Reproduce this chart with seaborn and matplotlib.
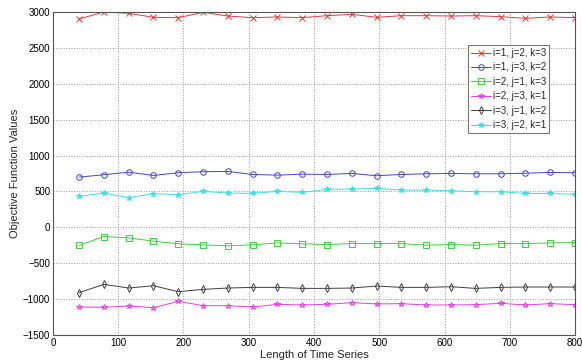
import seaborn as sns
import matplotlib.pyplot as plt
import numpy as np

# values
lengths = [40, 78, 116, 154, 192, 230, 268, 306, 344, 382, 420,
           458, 496, 534, 572, 610, 648, 686, 724, 762, 800]

i1j2k3 = [2903, 3000, 2982, 2926, 2921, 2996, 2944, 2921, 2931, 2921, 2949,
          2968, 2926, 2949, 2949, 2944, 2949, 2935, 2912, 2931, 2921]
i1j3k2 = [699, 732, 768, 722, 760, 774, 778, 736, 726, 740, 736,
          750, 718, 736, 745, 750, 745, 745, 754, 764, 759]
i2j1k3 = [-254, -129, -148, -194, -231, -245, -259, -245, -218, -231, -241,
          -227, -227, -227, -250, -241, -250, -227, -227, -218, -213]
i2j3k1 = [-1111, -1115, -1097, -1121, -1032, -1093, -1093, -1111, -1074, -1083, -1074,
          -1051, -1069, -1065, -1083, -1083, -1079, -1060, -1083, -1065, -1079]
i3j1k2 = [-912, -796, -847, -815, -898, -866, -847, -838, -838, -852, -852,
          -847, -819, -838, -838, -829, -852, -838, -833, -833, -833]
i3j2k1 = [431, 477, 412, 468, 454, 500, 477, 472, 500, 486, 528,
          532, 542, 518, 518, 509, 495, 495, 472, 472, 458]

series = [
    ('i=1, j=2, k=3', i1j2k3, '#dd3b3b', 'x', True),
    ('i=1, j=3, k=2', i1j3k2, '#4545c8', 'o', False),
    ('i=2, j=1, k=3', i2j1k3, '#3fd03f', 's', False),
    ('i=2, j=3, k=1', i2j3k1, '#e040e0', '*', False),
    ('i=3, j=1, k=2', i3j1k2, '#404040', 'd', False),
    ('i=3, j=2, k=1', i3j2k1, '#3fe0e0', '*', True),
]

sns.set_style('white')
plt.rcParams['font.family'] = ['Liberation Sans', 'DejaVu Sans']

fig = plt.figure(figsize=(5.82, 3.64), dpi=100)
ax = fig.add_axes([0.091, 0.080, 0.897, 0.887])

for name, vals, col, mk, filled in series:
    sns.lineplot(x=lengths, y=vals, ax=ax, color=col, marker=mk, label=name,
                 linewidth=0.7, markersize=4,
                 markerfacecolor=col if filled else 'none',
                 markeredgecolor=col, markeredgewidth=0.7)

ax.set_xlim(0, 800)
ax.set_ylim(-1500, 3000)
ax.set_xticks(np.arange(0, 801, 100))
ax.set_yticks(np.arange(-1500, 3001, 500))
ax.grid(True, linestyle=':', color='#999999', linewidth=0.7)
ax.tick_params(direction='in', length=3, labelsize=7, colors='black', pad=2)
for s in ax.spines.values():
    s.set_color('#555555')
    s.set_linewidth(0.8)

ax.set_xlabel('Length of Time Series', fontsize=8, labelpad=2)
ax.set_ylabel('Objective Function Values', fontsize=8, labelpad=2)

leg = ax.legend(loc='upper right', bbox_to_anchor=(0.96, 0.914), fontsize=7,
                handlelength=2.0, handletextpad=0.2, borderpad=0.35,
                labelspacing=0.45, frameon=True, fancybox=False,
                framealpha=1)
leg.get_frame().set_edgecolor('#777777')
leg.get_frame().set_linewidth(0.8)

fig.savefig('out.png', dpi=100)
